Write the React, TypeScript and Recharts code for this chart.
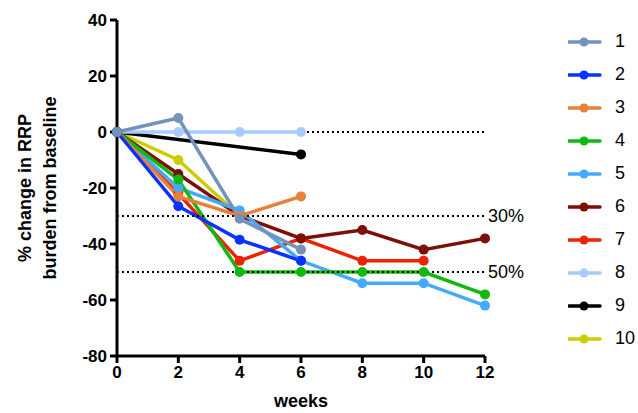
import React from 'react';
import { LineChart, Line, XAxis, YAxis, ReferenceLine } from 'recharts';

const weeks = [0, 2, 4, 6, 8, 10, 12];
const yTicks = [-80, -60, -40, -20, 0, 20, 40];

// % change per patient, one value per week (null = not measured)
const p1 = [0, 5, -31, -42, null, null, null];
const p2 = [0, -26.5, -38.5, -46, null, null, null];
const p3 = [0, -23, -30, -23, null, null, null];
const p4 = [0, -17, -50, -50, -50, -50, -58];
const p5 = [0, -20, -28, -46, -54, -54, -62];
const p6 = [0, -15, -30, -38, -35, -42, -38];
const p7 = [0, -22, -46, -38, -46, -46, null];
const p8 = [0, 0, 0, 0, null, null, null];
const p9 = [0, null, null, -8, null, null, null];
const p10 = [0, -10, -30, null, null, null, null];

const series = [
  { key: '1', values: p1, color: '#7393bd' },
  { key: '2', values: p2, color: '#0a32ff' },
  { key: '3', values: p3, color: '#e8803a' },
  { key: '4', values: p4, color: '#10b810' },
  { key: '5', values: p5, color: '#45aaff' },
  { key: '6', values: p6, color: '#7d1006' },
  { key: '7', values: p7, color: '#ec2200' },
  { key: '8', values: p8, color: '#a8cbff' },
  { key: '9', values: p9, color: '#000000' },
  { key: '10', values: p10, color: '#cccc00' },
];

const data = weeks.map((w, i) => {
  const row: Record<string, number | null> = { week: w };
  series.forEach((s) => (row[s.key] = s.values[i]));
  return row;
});

const font = '"Liberation Sans", Arial, sans-serif';
const tickStyle = { fill: '#000', fontSize: 17, fontWeight: 700, fontFamily: font };

function LegendBox() {
  return (
    <div style={{ position: 'absolute', left: 568, top: 25, fontFamily: font }}>
      {series.map((s) => (
        <div key={s.key} style={{ display: 'flex', alignItems: 'center', height: 33 }}>
          <svg width={34} height={12}>
            <line x1={1} y1={6} x2={32} y2={6} stroke={s.color} strokeWidth={3.5} strokeLinecap="round" />
            <circle cx={16} cy={6} r={4.5} fill={s.color} />
          </svg>
          <span style={{ marginLeft: 13, fontSize: 18, color: '#000' }}>{s.key}</span>
        </div>
      ))}
    </div>
  );
}

export default function App() {
  return (
    <div style={{ position: 'absolute', left: 0, top: 0, width: 638, height: 413 }}>
      <LineChart width={638} height={413} data={data} margin={{ top: 20, right: 153, left: 0, bottom: 0 }}>
        <XAxis
          dataKey="week"
          type="number"
          domain={[0, 12]}
          ticks={weeks}
          height={57}
          tick={tickStyle}
          tickSize={7}
          tickMargin={3}
          axisLine={{ stroke: '#000', strokeWidth: 3 }}
          tickLine={{ stroke: '#000', strokeWidth: 3 }}
          label={{
            content: () => (
              <text x={301} y={407} textAnchor="middle" fontFamily={font} fontSize={18} fontWeight={700} fill="#000">
                weeks
              </text>
            ),
          }}
        />
        <YAxis
          type="number"
          domain={[-80, 40]}
          ticks={yTicks}
          width={117}
          tick={tickStyle}
          tickSize={7}
          tickMargin={3}
          axisLine={{ stroke: '#000', strokeWidth: 3 }}
          tickLine={{ stroke: '#000', strokeWidth: 3 }}
          label={{
            content: () => (
              <text
                transform="translate(37,188) rotate(-90)"
                textAnchor="middle"
                fontFamily={font}
                fontSize={18}
                fontWeight={700}
                fill="#000"
              >
                <tspan x={0} dy={-6}>% change in RRP</tspan>
                <tspan x={0} dy={25}>burden from baseline</tspan>
              </text>
            ),
          }}
        />
        <ReferenceLine y={0} stroke="#000" strokeWidth={2} strokeDasharray="2 3" />
        {[...series].reverse().map((s) => (
          <Line
            key={s.key}
            dataKey={s.key}
            stroke={s.color}
            strokeWidth={3.5}
            dot={{ r: 5, fill: s.color, stroke: s.color, strokeWidth: 0 }}
            connectNulls
            isAnimationActive={false}
          />
        ))}
        <ReferenceLine
          y={-30}
          stroke="#000"
          strokeWidth={2}
          strokeDasharray="2 3"
          label={{ value: '30%', position: 'right', fill: '#000', fontSize: 18, fontFamily: font, offset: 3 }}
        />
        <ReferenceLine
          y={-50}
          stroke="#000"
          strokeWidth={2}
          strokeDasharray="2 3"
          label={{ value: '50%', position: 'right', fill: '#000', fontSize: 18, fontFamily: font, offset: 3 }}
        />
      </LineChart>
      <LegendBox />
    </div>
  );
}
